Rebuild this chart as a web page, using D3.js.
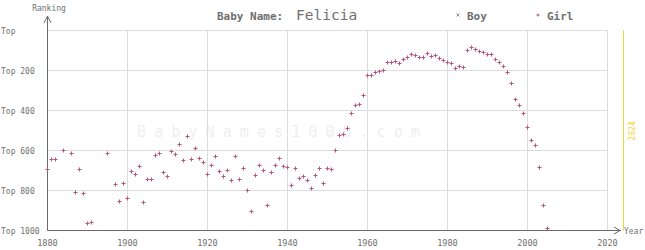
<!DOCTYPE html>
<html>
<head>
<meta charset="utf-8">
<script src="https://cdn.jsdelivr.net/npm/d3@7"></script>
<style>
  body { margin: 0; background: #fff; }
  svg { display: block; font-family: 'DejaVu Sans Mono', monospace; }
</style>
</head>
<body>
<svg id="chart" width="645" height="250"></svg>
<script>
'use strict'

const girlYears = [1880, 1881, 1882, 1884, 1886, 1887, 1888, 1889, 1890, 1891, 1895, 1897, 1898, 1899,
  1900, 1901, 1902, 1903, 1904, 1905, 1906, 1907, 1908, 1909, 1910, 1911, 1912, 1913, 1914, 1915, 1916,
  1917, 1918, 1919, 1920, 1921, 1922, 1923, 1924, 1925, 1926, 1927, 1928, 1929, 1930, 1931, 1932, 1933,
  1934, 1935, 1936, 1937, 1938, 1939, 1940, 1941, 1942, 1943, 1944, 1945, 1946, 1947, 1948, 1949, 1950,
  1951, 1952, 1953, 1954, 1955, 1956, 1957, 1958, 1959, 1960, 1961, 1962, 1963, 1964, 1965, 1966, 1967,
  1968, 1969, 1970, 1971, 1972, 1973, 1974, 1975, 1976, 1977, 1978, 1979, 1980, 1981, 1982, 1983, 1984,
  1985, 1986, 1987, 1988, 1989, 1990, 1991, 1992, 1993, 1994, 1995, 1996, 1997, 1998, 1999, 2000, 2001,
  2002, 2003, 2004, 2005]
const girlRanks = [696, 647, 647, 602, 617, 812, 696, 817, 967, 962, 617, 772, 857, 767,
  842, 707, 722, 682, 862, 747, 747, 627, 617, 712, 732, 607, 622, 572, 652, 532, 647,
  592, 642, 662, 720, 677, 632, 707, 732, 702, 752, 632, 747, 692, 802, 907, 727, 677,
  702, 877, 712, 677, 642, 682, 687, 777, 692, 742, 732, 752, 792, 727, 692, 765, 692,
  697, 602, 527, 522, 492, 417, 377, 372, 327, 227, 227, 212, 207, 202, 162, 162, 157,
  167, 147, 137, 122, 127, 137, 137, 117, 132, 127, 142, 152, 162, 167, 192, 182, 187,
  102, 87, 97, 107, 112, 122, 122, 147, 162, 182, 212, 267, 347, 377, 417, 487, 552,
  577, 687, 877, 992]
const boyYears = []
const boyRanks = []

const xTicks = [1880, 1900, 1920, 1940, 1960, 1980, 2000, 2020]
const yTicks = [0, 200, 400, 600, 800, 1000]
const yTickLabels = ['Top', 'Top 200', 'Top 400', 'Top 600', 'Top 800', 'Top 1000']
const currentYear = 2024

const girlColor = '#b9527e'
const boyColor = '#8a96b8'
const textColor = '#707070'

const svg = d3.select('#chart')
const x = d3.scaleLinear().domain([1880, 2020]).range([47.5, 607.5])
const y = d3.scaleLinear().domain([0, 1000]).range([30.5, 230.5])

// watermark
svg.append('text')
  .attr('x', 137).attr('y', 137)
  .attr('fill', '#efefef')
  .attr('font-size', 15)
  .attr('letter-spacing', 8.1)
  .text('BabyNames1000.com')

// grid
const grid = svg.append('g').attr('stroke', '#dcdcdc').attr('stroke-width', 1)
grid.selectAll('line.h').data(yTicks.slice(0, -1)).join('line')
  .attr('x1', x(1880)).attr('x2', x(2020))
  .attr('y1', d => y(d)).attr('y2', d => y(d))
grid.selectAll('line.v').data(xTicks.slice(1)).join('line')
  .attr('x1', d => x(d)).attr('x2', d => x(d))
  .attr('y1', y(0)).attr('y2', y(1000))

// current year marker
svg.append('line')
  .attr('x1', x(currentYear)).attr('x2', x(currentYear))
  .attr('y1', y(0)).attr('y2', y(1000))
  .attr('stroke', '#f0d530').attr('stroke-width', 1)
svg.append('text')
  .attr('transform', `translate(${x(currentYear) + 11},131) rotate(-90)`)
  .attr('text-anchor', 'middle')
  .attr('fill', '#f0d530')
  .attr('font-size', 8)
  .text(currentYear)

// axes
const axis = svg.append('g').attr('stroke', '#6a6a6a').attr('fill', 'none').attr('stroke-width', 1)
axis.append('line').attr('x1', x(1880)).attr('x2', x(1880)).attr('y1', y(1000)).attr('y2', 16)
axis.append('path').attr('d', `M${x(1880) - 3.5},23L${x(1880)},16L${x(1880) + 3.5},23`)
axis.append('line').attr('x1', x(1880)).attr('x2', 621).attr('y1', y(1000)).attr('y2', y(1000))
axis.append('path').attr('d', `M614,${y(1000) - 3.5}L620,${y(1000)}L614,${y(1000) + 3.5}`)

svg.append('text')
  .attr('x', 49).attr('y', 11)
  .attr('text-anchor', 'middle')
  .attr('fill', textColor).attr('font-size', 8)
  .text('Ranking')
svg.append('text')
  .attr('x', 624).attr('y', y(1000) + 3)
  .attr('fill', textColor).attr('font-size', 8)
  .text('Year')

svg.append('g').selectAll('text').data(yTicks).join('text')
  .attr('x', 1).attr('y', d => y(d) + 3)
  .attr('fill', textColor).attr('font-size', 8)
  .text((d, i) => yTickLabels[i])

svg.append('g').selectAll('text').data(xTicks).join('text')
  .attr('x', d => x(d)).attr('y', 246)
  .attr('text-anchor', 'middle')
  .attr('fill', textColor).attr('font-size', 8.5)
  .text(d => d)

// title
const title = svg.append('text').attr('y', 20).attr('fill', textColor)
title.append('tspan').attr('x', 217).attr('font-size', 11).attr('font-weight', 'bold').text('Baby Name:')
title.append('tspan').attr('x', 296).attr('font-size', 14.5).text('Felicia')

// legend
svg.append('path')
  .attr('d', 'M456.5,13.5l3,3M459.5,13.5l-3,3')
  .attr('stroke', boyColor).attr('stroke-width', 1)
svg.append('text')
  .attr('x', 467).attr('y', 20)
  .attr('fill', textColor).attr('font-size', 11).attr('font-weight', 'bold')
  .text('Boy')
svg.append('path')
  .attr('d', 'M536.5,15h3M538,13.5v3')
  .attr('stroke', girlColor).attr('stroke-width', 1)
svg.append('text')
  .attr('x', 547).attr('y', 20)
  .attr('fill', textColor).attr('font-size', 11).attr('font-weight', 'bold')
  .text('Girl')

// marks
const girls = girlYears.map((yr, i) => ({ year: yr, rank: girlRanks[i] }))
svg.append('g')
  .attr('stroke', girlColor).attr('stroke-width', 1).attr('fill', 'none')
  .selectAll('path').data(girls).join('path')
  .attr('d', d => {
    const cx = Math.round(x(d.year) - 0.5) + 0.5
    const cy = Math.round(y(d.rank) - 0.5) + 0.5
    return `M${cx - 2},${cy}H${cx + 2}M${cx},${cy - 2}V${cy + 2}`
  })

const boys = boyYears.map((yr, i) => ({ year: yr, rank: boyRanks[i] }))
svg.append('g')
  .attr('stroke', boyColor).attr('stroke-width', 1)
  .selectAll('path').data(boys).join('path')
  .attr('d', d => `M${x(d.year) - 1.5},${y(d.rank) - 1.5}l3,3m0,-3l-3,3`)
</script>
</body>
</html>
